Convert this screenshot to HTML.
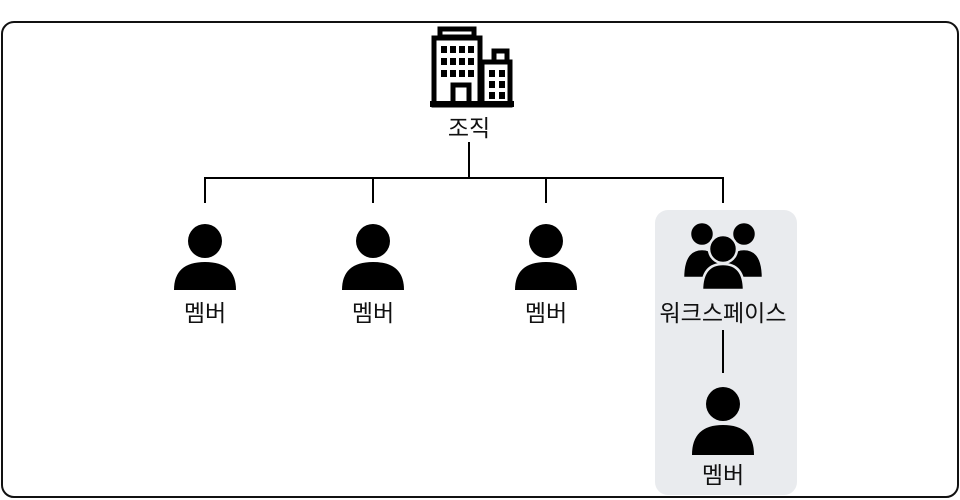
<!DOCTYPE html>
<html><head><meta charset="utf-8"><style>
html,body{margin:0;padding:0;background:#fff;}
svg{display:block}
text{font-family:"Liberation Sans","Noto Sans CJK KR",sans-serif;font-size:23px;fill:#111;text-anchor:middle}
</style></head><body>
<svg width="960" height="500" viewBox="0 0 960 500">
<rect x="2" y="22" width="956" height="475" rx="12" fill="#fff" stroke="#111" stroke-width="2"/>
<rect x="655" y="210" width="142" height="285" rx="13" fill="#e9ebee"/>
<!-- building -->
<g fill="none" stroke="#000" stroke-width="5">
<rect x="440" y="29" width="34" height="8"/>
<rect x="434" y="38" width="46" height="67"/>
<rect x="482" y="62" width="28" height="43"/>
<rect x="494" y="51" width="13" height="11"/>
<rect x="453" y="85" width="16" height="20"/>
</g>
<rect x="430" y="101" width="84" height="6" fill="#000"/>
<g fill="#000">
<rect x="441" y="46" width="6" height="7"/><rect x="450" y="46" width="6" height="7"/><rect x="459" y="46" width="6" height="7"/><rect x="468" y="46" width="6" height="7"/>
<rect x="441" y="58" width="6" height="7"/><rect x="450" y="58" width="6" height="7"/><rect x="459" y="58" width="6" height="7"/><rect x="468" y="58" width="6" height="7"/>
<rect x="441" y="70" width="6" height="7"/><rect x="450" y="70" width="6" height="7"/><rect x="459" y="70" width="6" height="7"/><rect x="468" y="70" width="6" height="7"/>
<rect x="489" y="70" width="6" height="7"/><rect x="499" y="70" width="6" height="7"/>
<rect x="489" y="81" width="6" height="7"/><rect x="499" y="81" width="6" height="7"/>
<rect x="489" y="92" width="6" height="7"/><rect x="499" y="92" width="6" height="7"/>
</g>
<text x="469" y="136">조직</text>
<!-- connectors -->
<g stroke="#000" stroke-width="2" fill="none">
<line x1="469" y1="142" x2="469" y2="178"/>
<line x1="204" y1="178" x2="724" y2="178"/>
<line x1="205" y1="177" x2="205" y2="203"/>
<line x1="373" y1="177" x2="373" y2="203"/>
<line x1="546" y1="177" x2="546" y2="203"/>
<line x1="723" y1="177" x2="723" y2="203"/>
<line x1="723" y1="330" x2="723" y2="373"/>
</g>
<!-- persons -->
<g fill="#000">
<circle cx="205" cy="241" r="17"/><path d="M174 290 Q174 262 205 262 Q236 262 236 290 Z"/>
<circle cx="373" cy="241" r="17"/><path d="M342 290 Q342 262 373 262 Q404 262 404 290 Z"/>
<circle cx="546" cy="241" r="17"/><path d="M515 290 Q515 262 546 262 Q577 262 577 290 Z"/>
<circle cx="723" cy="404" r="17"/><path d="M692 455 Q692 425 723 425 Q754 425 754 455 Z"/>
</g>
<!-- group -->
<g stroke="#e9ebee" stroke-width="2.5" fill="#000">
<circle cx="702" cy="234" r="12"/><path d="M683 278 Q683 249 702 249 Q721 249 721 278 Z"/>
<circle cx="744" cy="234" r="12"/><path d="M725 278 Q725 249 744 249 Q763 249 763 278 Z"/>
<circle cx="723" cy="249" r="14"/><path d="M702 290 Q702 264 723 264 Q744 264 744 290 Z"/>
</g>
<text x="205" y="321">멤버</text>
<text x="373" y="321">멤버</text>
<text x="546" y="321">멤버</text>
<text x="723" y="321">워크스페이스</text>
<text x="723" y="483">멤버</text>
</svg>
</body></html>
